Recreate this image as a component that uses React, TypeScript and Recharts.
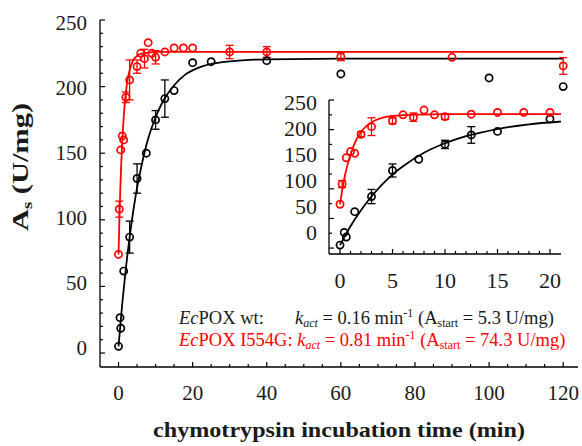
import { ComposedChart, Scatter, Line, XAxis, YAxis, ErrorBar } from 'recharts'

const FONT = 'Liberation Serif'
const RED = '#ff0000'
const INK = '#000000'
const TEXT = '#1a1a1a'

// EcPOX wt, measured specific activity (min, U/mg, error bar)
const wtTimes = [0, 0.4, 0.6, 1.4, 3, 5, 7.5, 10, 12.5, 15, 20, 25, 40, 60, 100, 120]
const wtActivity = [5, 26.5, 18.6, 61.5, 87, 131, 150, 175, 191, 197, 218, 218.7, 219.5, 209.5, 206.5, 200]
const wtError = [0, 0, 0, 0, 12, 11, 0, 7, 14, 0, 0, 0, 0, 0, 0, 0]

// EcPOX I554G
const mutTimes = [0, 0.2, 0.6, 1, 1.4, 2, 3, 5, 6, 7, 8, 9, 10, 12.5, 15, 17.5, 20, 30, 40, 60, 90, 120]
const mutActivity = [74, 108, 152.5, 163, 160, 192, 205, 215, 225, 221, 233, 225, 222, 226, 229, 229, 229, 226, 226, 222.5, 222, 215.5]
const mutError = [0, 6, 0, 0, 0, 4, 15, 5, 0, 7, 0, 0, 5, 0, 0, 0, 0, 5, 4, 3, 0, 6.3]

// fitted curves
const wtFitTimes = [0, 1, 2, 3, 4, 5, 6, 8, 10, 12, 15, 18, 21, 25, 30, 40, 60, 120]
const wtFitActivity = [5, 37, 64, 87, 107, 124, 138, 161, 177, 189, 201, 209, 213.5, 217, 219, 220.5, 221, 221]
const mutFitTimes = [0, 0.25, 0.5, 0.75, 1, 1.5, 2, 2.5, 3, 4, 5, 6, 8, 10, 120]
const mutFitActivity = [74, 102, 125, 143, 158, 181, 196, 206, 212.5, 220, 223, 224.5, 225.5, 226, 226]

// axis ticks
const mainXTicks = [0, 5, 10, 15, 20, 25, 30, 35, 40, 45, 50, 55, 60, 65, 70, 75, 80, 85, 90, 95, 100, 105, 110, 115, 120]
const mainXLabels = [0, 20, 40, 60, 80, 100, 120]
const mainYTicks = [0, 10, 20, 30, 40, 50, 60, 70, 80, 90, 100, 110, 120, 130, 140, 150, 160, 170, 180, 190, 200, 210, 220, 230, 240, 250]
const mainYLabels = [0, 50, 100, 150, 200, 250]
const insetXTicks = [0, 1, 2, 3, 4, 5, 6, 7, 8, 9, 10, 11, 12, 13, 14, 15, 16, 17, 18, 19, 20]
const insetXLabels = [0, 5, 10, 15, 20]
const insetYTicks = [0, 25, 50, 75, 100, 125, 150, 175, 200, 225, 250]
const insetYLabels = [0, 50, 100, 150, 200, 250]

const toPoints = (t: number[], a: number[], e?: number[]) =>
  t.map((v, i) => ({ t: v, a: a[i], e: e ? e[i] : 0 }))

const wtPoints = toPoints(wtTimes, wtActivity, wtError)
const mutPoints = toPoints(mutTimes, mutActivity, mutError)
const wtFit = toPoints(wtFitTimes, wtFitActivity)
const mutFit = toPoints(mutFitTimes, mutFitActivity)

type Side = 'bottom' | 'top' | 'left' | 'right'

// inward pointing ticks, longer on labelled values
function frameTick(side: Side, labels: number[], opts: { major: number; minor: number; showLabels?: boolean; fontSize?: number; gap?: number; labelY?: (y: number) => number }) {
  return (p: any) => {
    const v = p.payload.value
    const isMajor = labels.includes(v)
    const len = isMajor ? opts.major : opts.minor
    let x2 = p.x
    let y2 = p.y
    if (side === 'bottom') y2 = p.y - len
    if (side === 'top') y2 = p.y + len
    if (side === 'left') x2 = p.x + len
    if (side === 'right') x2 = p.x - len
    const gap = opts.gap ?? 0
    const txt = { fontSize: opts.fontSize, fontFamily: FONT }
    return (
      <g>
        <line x1={p.x} y1={p.y} x2={x2} y2={y2} stroke={INK} strokeWidth={1.2} />
        {opts.showLabels && isMajor && side === 'bottom' && (
          <text x={p.x} y={p.y + gap} textAnchor="middle" style={txt} fill={TEXT}>
            {v}
          </text>
        )}
        {opts.showLabels && isMajor && side === 'left' && (
          <text x={p.x - gap} y={opts.labelY ? opts.labelY(p.y) : p.y} dy="0.35em" textAnchor="end" style={txt} fill={TEXT}>
            {v}
          </text>
        )}
      </g>
    )
  }
}

const openCircle = (color: string) => (p: any) => (
  <circle cx={p.cx} cy={p.cy} r={3.6} fill="none" stroke={color} strokeWidth={1.7} />
)

const frameLine = { stroke: INK, strokeWidth: 1.3 }

function MainChart() {
  const xDomain = [-5, 124]
  const yDomain = [-10.5, 250]
  return (
    <ComposedChart width={582} height={446} margin={{ top: 20, right: 4, bottom: 0, left: 0 }}>
      <XAxis dataKey="t" type="number" domain={xDomain} allowDataOverflow ticks={mainXTicks} interval={0} height={79}
        tickSize={0} tickMargin={0} tickLine={false} axisLine={frameLine}
        tick={frameTick('bottom', mainXLabels, { major: 5, minor: 3, showLabels: true, fontSize: 21, gap: 33 })} />
      <XAxis xAxisId="top" orientation="top" type="number" domain={xDomain} allowDataOverflow ticks={mainXTicks} interval={0} height={0}
        tickSize={0} tickMargin={0} tickLine={false} axisLine={frameLine}
        tick={frameTick('top', mainXLabels, { major: 5, minor: 3 })} />
      <YAxis dataKey="a" type="number" domain={yDomain} allowDataOverflow ticks={mainYTicks} interval={0} width={100}
        tickSize={0} tickMargin={0} tickLine={false} axisLine={frameLine}
        tick={frameTick('left', mainYLabels, { major: 5, minor: 3, showLabels: true, fontSize: 21, gap: 13, labelY: (y) => 23 + (y - 20) * (325 / 333) })} />
      <YAxis yAxisId="right" orientation="right" type="number" domain={yDomain} allowDataOverflow ticks={mainYTicks} interval={0} width={0}
        tickSize={0} tickMargin={0} tickLine={false} axisLine={frameLine}
        tick={frameTick('right', mainYLabels, { major: 5, minor: 3 })} />
      <Line data={wtFit} dataKey="a" type="monotone" stroke={INK} strokeWidth={1.8} dot={false} activeDot={false} isAnimationActive={false} />
      <Line data={mutFit} dataKey="a" type="monotone" stroke={RED} strokeWidth={1.8} dot={false} activeDot={false} isAnimationActive={false} />
      <Scatter data={wtPoints} dataKey="a" shape={openCircle(INK)} isAnimationActive={false}>
        <ErrorBar dataKey="e" direction="y" width={4} stroke={INK} strokeWidth={1.3} isAnimationActive={false} />
      </Scatter>
      <Scatter data={mutPoints} dataKey="a" shape={openCircle(RED)} isAnimationActive={false}>
        <ErrorBar dataKey="e" direction="y" width={4} stroke={RED} strokeWidth={1.3} isAnimationActive={false} />
      </Scatter>
    </ComposedChart>
  )
}

function InsetChart() {
  const xDomain = [-1.05, 21.05]
  const yDomain = [-10, 250]
  const wtEarly = wtPoints.filter((d) => d.t <= 21)
  const mutEarly = mutPoints.filter((d) => d.t <= 21)
  return (
    <ComposedChart width={310} height={210} margin={{ top: 10, right: 9, bottom: 0, left: 0 }}>
      <XAxis dataKey="t" type="number" domain={xDomain} allowDataOverflow ticks={insetXTicks} interval={0} height={46}
        tickSize={0} tickMargin={0} tickLine={false} axisLine={frameLine}
        tick={frameTick('bottom', insetXLabels, { major: 5, minor: 3, showLabels: true, fontSize: 22, gap: 34 })} />
      <XAxis xAxisId="top" orientation="top" type="number" domain={xDomain} allowDataOverflow ticks={insetXTicks} interval={0} height={0}
        tickSize={0} tickMargin={0} tickLine={false} axisLine={frameLine}
        tick={frameTick('top', insetXLabels, { major: 5, minor: 3 })} />
      <YAxis dataKey="a" type="number" domain={yDomain} allowDataOverflow ticks={insetYTicks} interval={0} width={69}
        tickSize={0} tickMargin={0} tickLine={false} axisLine={frameLine}
        tick={frameTick('left', insetYLabels, { major: 5, minor: 3, showLabels: true, fontSize: 22, gap: 12, labelY: (y) => 12 + (y - 10) * (130 / 148) })} />
      <YAxis yAxisId="right" orientation="right" type="number" domain={yDomain} allowDataOverflow ticks={insetYTicks} interval={0} width={0}
        tickSize={0} tickMargin={0} tickLine={false} axisLine={frameLine}
        tick={frameTick('right', insetYLabels, { major: 5, minor: 3 })} />
      <Line data={wtFit} dataKey="a" type="monotone" stroke={INK} strokeWidth={1.8} dot={false} activeDot={false} isAnimationActive={false} />
      <Line data={mutFit} dataKey="a" type="monotone" stroke={RED} strokeWidth={1.8} dot={false} activeDot={false} isAnimationActive={false} />
      <Scatter data={wtEarly} dataKey="a" shape={openCircle(INK)} isAnimationActive={false}>
        <ErrorBar dataKey="e" direction="y" width={4} stroke={INK} strokeWidth={1.3} isAnimationActive={false} />
      </Scatter>
      <Scatter data={mutEarly} dataKey="a" shape={openCircle(RED)} isAnimationActive={false}>
        <ErrorBar dataKey="e" direction="y" width={4} stroke={RED} strokeWidth={1.3} isAnimationActive={false} />
      </Scatter>
    </ComposedChart>
  )
}

function Annotations() {
  const sub = { fontSize: 12 }
  return (
    <svg width={582} height={446} style={{ position: 'absolute', left: 0, top: 0, pointerEvents: 'none' }}>
      <g style={{ fontFamily: FONT }}>
        <text x={179} y={324} fontSize={18.5} fill={TEXT}>
          <tspan fontStyle="italic">Ec</tspan>POX wt:
          <tspan x={295} fontStyle="italic">k</tspan>
          <tspan {...sub} fontStyle="italic" dy={3}>act</tspan>
          <tspan dy={-3}> = 0.16 min</tspan>
          <tspan {...sub} dy={-7}>-1</tspan>
          <tspan dy={7}> (A</tspan>
          <tspan {...sub} dy={3}>start</tspan>
          <tspan dy={-3}> = 5.3 U/mg)</tspan>
        </text>
        <text x={179} y={346} fontSize={18.5} fill={RED}>
          <tspan fontStyle="italic">Ec</tspan>POX I554G: <tspan fontStyle="italic">k</tspan>
          <tspan {...sub} fontStyle="italic" dy={3}>act</tspan>
          <tspan dy={-3}> = 0.81 min</tspan>
          <tspan {...sub} dy={-7}>-1</tspan>
          <tspan dy={7}> (A</tspan>
          <tspan {...sub} dy={3}>start</tspan>
          <tspan dy={-3}> = 74.3 U/mg)</tspan>
        </text>
        <text x={339} y={437} textAnchor="middle" fontSize={22} fontWeight="bold" fill={TEXT} textLength={372} lengthAdjust="spacingAndGlyphs">
          chymotrypsin incubation time (min)
        </text>
        <text transform="translate(28,167) rotate(-90)" textAnchor="middle" fontSize={23} fontWeight="bold" fill={TEXT} textLength={128} lengthAdjust="spacingAndGlyphs">
          A<tspan fontSize={14} dy={4}>s</tspan>
          <tspan dy={-4}> (U/mg)</tspan>
        </text>
      </g>
    </svg>
  )
}

export default function App() {
  return (
    <div style={{ position: 'absolute', left: 0, top: 0, width: 582, height: 446, background: '#fff' }}>
      <MainChart />
      <div style={{ position: 'absolute', left: 260, top: 90 }}>
        <InsetChart />
      </div>
      <Annotations />
    </div>
  )
}
